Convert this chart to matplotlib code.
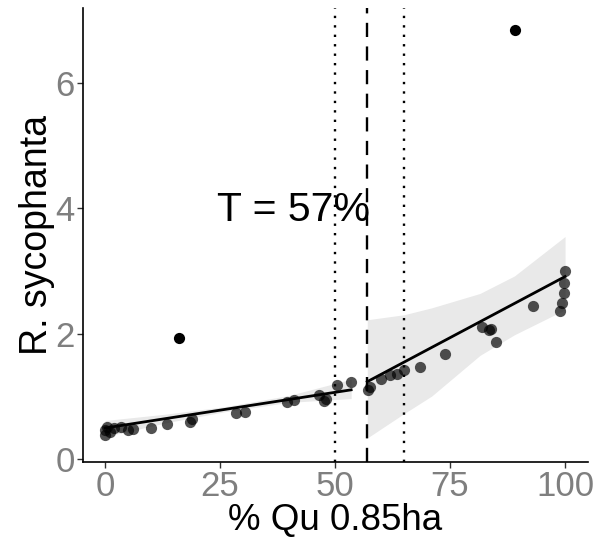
import matplotlib
matplotlib.use("Agg")
import matplotlib.pyplot as plt
import numpy as np

plt.rcParams['font.family'] = ['Liberation Sans', 'DejaVu Sans']

# --- data ---
seg1_x = [0, 0, 0.5, 1, 2, 3.5, 5, 6, 10, 13.5, 18.5, 19, 28.5, 30.5, 39.5, 41, 46.5, 47.5, 48, 50.5, 53.5]
seg1_y = [0.38, 0.45, 0.50, 0.42, 0.49, 0.50, 0.46, 0.48, 0.49, 0.56, 0.59, 0.63, 0.73, 0.74, 0.91, 0.93, 1.02, 0.92, 0.96, 1.18, 1.23]
seg2_x = [57.2, 57.5, 60, 62, 63.5, 65, 68.5, 74, 82, 83.5, 84, 85, 93, 98.8, 99.3, 99.7, 99.8, 99.9]
seg2_y = [1.10, 1.15, 1.28, 1.33, 1.36, 1.42, 1.47, 1.68, 2.11, 2.06, 2.07, 1.87, 2.44, 2.36, 2.48, 2.65, 2.80, 3.00]
outlier_x = [16, 89.2]
outlier_y = [1.93, 6.85]

fit1_x = [0, 53.5]
fit1_y = [0.49, 1.10]
fit2_x = [57, 100]
fit2_y = [1.23, 2.91]

band1_x = [0, 13, 26, 40, 53.5]
band1_lo = [0.35, 0.57, 0.75, 0.90, 0.96]
band1_hi = [0.61, 0.71, 0.83, 1.01, 1.27]
band2_x = [57, 65, 71, 81.5, 89, 100]
band2_lo = [0.33, 0.72, 1.00, 1.65, 1.98, 2.38]
band2_hi = [2.22, 2.30, 2.41, 2.64, 2.92, 3.55]

threshold = 57
ci_bounds = [50, 65]
x_ticks = [0, 25, 50, 75, 100]
y_ticks = [0, 2, 4, 6]

fig = plt.figure(figsize=(5.97, 5.42), dpi=100)
ax = fig.add_axes([0.139, 0.148, 0.846, 0.837])

band_col = '#e9e9e9'
ax.fill_between(band1_x, band1_lo, band1_hi, color=band_col, lw=0, zorder=1)
ax.fill_between(band2_x, band2_lo, band2_hi, color=band_col, lw=0, zorder=1)

ax.scatter(seg1_x, seg1_y, s=65, color='black', alpha=0.68, lw=0, zorder=3)
ax.scatter(seg2_x, seg2_y, s=65, color='black', alpha=0.68, lw=0, zorder=3)
ax.scatter(outlier_x, outlier_y, s=65, color='black', lw=0, zorder=3)

ax.plot(fit1_x, fit1_y, color='black', lw=2.0, zorder=4)
ax.plot(fit2_x, fit2_y, color='black', lw=2.0, zorder=4)

for v in ci_bounds:
    ax.axvline(v, color='black', lw=1.7, ls=(0, (1, 3)), zorder=5)
ax.axvline(threshold, color='black', lw=1.7, ls=(0, (6, 4)), zorder=5)

ax.text(41, 3.98, 'T = 57%', fontsize=29.5, ha='center', va='center', color='black', zorder=6)

ax.set_xlim(-4.8, 105)
ax.set_ylim(-0.05, 7.2)
ax.set_xticks(x_ticks)
ax.set_yticks(y_ticks)
ax.tick_params(axis='both', labelsize=25, labelcolor='#7f7f7f', color='#333333', length=4, width=1)
ax.tick_params(axis='x', pad=2)
ax.tick_params(axis='y', pad=2)

for s in ['top', 'right']:
    ax.spines[s].set_visible(False)
for s in ['left', 'bottom']:
    ax.spines[s].set_linewidth(1.2)
    ax.spines[s].set_color('black')

ax.set_xlabel('% Qu 0.85ha', fontsize=26.5, color='black', labelpad=0)
ax.set_ylabel('R. sycophanta', fontsize=27, color='black', labelpad=0)

fig.savefig('out.png', dpi=100)
